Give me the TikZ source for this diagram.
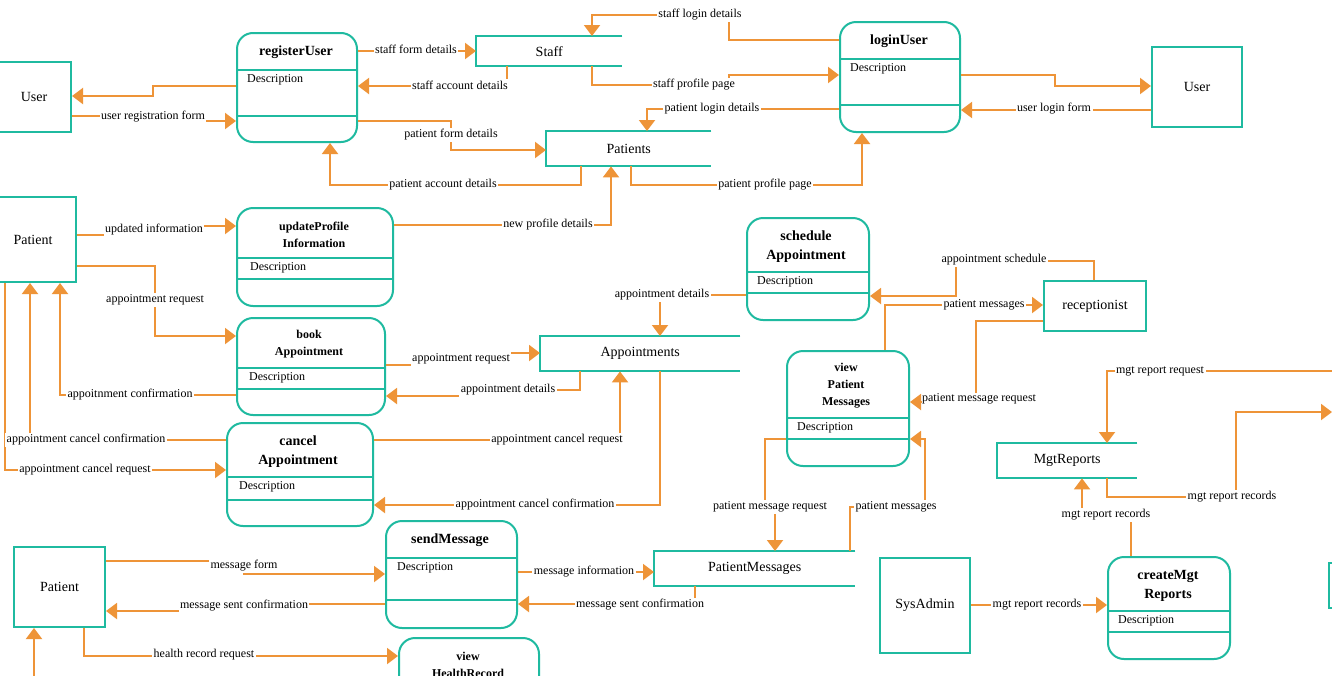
\documentclass[tikz,border=0pt]{standalone}
\usepackage{fontspec}
\setmainfont{Liberation Serif}
\usetikzlibrary{arrows.meta}
\definecolor{tealc}{RGB}{31,186,160}
\definecolor{orangec}{RGB}{238,148,56}
\tikzset{
  ent/.style={draw=tealc, line width=2pt, font=\fontsize{14}{16}\selectfont, inner sep=0pt, anchor=north west},
  proc/.style={draw=tealc, line width=2pt, rounded corners=16pt, inner sep=0pt, anchor=north west},
  ptitle/.style={font=\bfseries\fontsize{14}{19}\selectfont, align=center, inner sep=0pt},
  ptitles/.style={font=\bfseries\fontsize{12}{17}\selectfont, align=center, inner sep=0pt},
  desc/.style={font=\fontsize{12}{14}\selectfont, anchor=west, inner sep=0pt},
  store/.style={font=\fontsize{14}{16}\selectfont, inner sep=0pt, anchor=north west},
  tline/.style={draw=tealc, line width=2pt},
  flow/.style={draw=orangec, line width=2pt, -{Triangle[length=11pt,width=16pt]}},
  lbl/.style={fill=white, font=\fontsize{12}{14}\selectfont, inner sep=1.5pt},
}
\begin{document}
\begin{tikzpicture}[x=1pt,y=-1pt]
\useasboundingbox (0,0) rectangle (1332,675);
\fill[white] (0,0) rectangle (1332,675);

% ---------- external entities ----------
\node[ent, minimum width=74, minimum height=70] (uL) at (-4,61) {User};
\node[ent, minimum width=90, minimum height=80] (uR) at (1151,46) {User};
\node[ent, minimum width=86, minimum height=85] (pM) at (-11,196) {Patient};
\node[ent, minimum width=91, minimum height=80] (pB) at (13,546) {Patient};
\node[ent, minimum width=102, minimum height=50] (rec) at (1043,280) {receptionist};
\node[ent, minimum width=90, minimum height=95] (sys) at (879,557) {SysAdmin};
\node[ent, minimum width=100, minimum height=45] (rp) at (1328,562) {};

% ---------- data stores ----------
\node[store, minimum width=146, minimum height=30] (staff) at (476,36) {Staff};
\node[store, minimum width=165, minimum height=35] (patients) at (546,131) {Patients};
\node[store, minimum width=200, minimum height=35] (appts) at (540,336) {Appointments};
\node[store, minimum width=140, minimum height=35] (mgt) at (997,443) {MgtReports};
\node[store, minimum width=201, minimum height=35] (pmsg) at (654,551) {PatientMessages};
\foreach \s in {staff,patients,appts,mgt,pmsg}{
  \draw[tline] (\s.north east) -- (\s.north west) -- (\s.south west) -- (\s.south east);
}

% ---------- processes ----------
% registerUser
\node[proc, minimum width=120, minimum height=109] (reg) at (236,32) {};
\node[ptitle] (regT) at (296,52) {registerUser};
\draw[tline] (reg.west |- 0,70) -- (reg.east |- 0,70);
\draw[tline] (reg.west |- 0,116) -- (reg.east |- 0,116);
\node[desc] (regD) at (247,80) {Description};
% loginUser
\node[proc, minimum width=120, minimum height=110] (login) at (839,21) {};
\node[ptitle] (loginT) at (899,41) {loginUser};
\draw[tline] (login.west |- 0,59) -- (login.east |- 0,59);
\draw[tline] (login.west |- 0,105) -- (login.east |- 0,105);
\node[desc] (loginD) at (850,69) {Description};
% updateProfileInformation
\node[proc, minimum width=156, minimum height=98] (upd) at (236,207) {};
\node[ptitles] (updT) at (314,234.5) {updateProfile\\Information};
\draw[tline] (upd.west |- 0,258) -- (upd.east |- 0,258);
\draw[tline] (upd.west |- 0,279) -- (upd.east |- 0,279);
\node[desc] (updD) at (250,268) {Description};
% bookAppointment
\node[proc, minimum width=148, minimum height=97] (book) at (236,317) {};
\node[ptitles] (bookT) at (309,344.5) {book\\Appointment};
\draw[tline] (book.west |- 0,368) -- (book.east |- 0,368);
\draw[tline] (book.west |- 0,389) -- (book.east |- 0,389);
\node[desc] (bookD) at (249,378) {Description};
% cancelAppointment
\node[proc, minimum width=146, minimum height=103] (cancel) at (226,422) {};
\node[ptitle] (cancelT) at (298,451.5) {cancel\\Appointment};
\draw[tline] (cancel.west |- 0,477) -- (cancel.east |- 0,477);
\draw[tline] (cancel.west |- 0,500) -- (cancel.east |- 0,500);
\node[desc] (cancelD) at (239,487) {Description};
% scheduleAppointment
\node[proc, minimum width=122, minimum height=102] (sched) at (746,217) {};
\node[ptitle] (schedT) at (806,246.5) {schedule\\Appointment};
\draw[tline] (sched.west |- 0,272) -- (sched.east |- 0,272);
\draw[tline] (sched.west |- 0,293) -- (sched.east |- 0,293);
\node[desc] (schedD) at (757,282) {Description};
% viewPatientMessages
\node[proc, minimum width=122, minimum height=115] (vpm) at (786,350) {};
\node[ptitles] (vpmT) at (846,386) {view\\Patient\\Messages};
\draw[tline] (vpm.west |- 0,418) -- (vpm.east |- 0,418);
\draw[tline] (vpm.west |- 0,439) -- (vpm.east |- 0,439);
\node[desc] (vpmD) at (797,428) {Description};
% sendMessage
\node[proc, minimum width=131, minimum height=107] (send) at (385,520) {};
\node[ptitle] (sendT) at (450,540) {sendMessage};
\draw[tline] (send.west |- 0,558) -- (send.east |- 0,558);
\draw[tline] (send.west |- 0,600) -- (send.east |- 0,600);
\node[desc] (sendD) at (397,568) {Description};
% viewHealthRecord
\node[proc, minimum width=140, minimum height=110] (vhr) at (398,637) {};
\node[ptitles] (vhrT) at (468,664.5) {view\\HealthRecord};
% createMgtReports
\node[proc, minimum width=122, minimum height=102] (cmr) at (1107,556) {};
\node[ptitle] (cmrT) at (1168,586) {createMgt\\Reports};
\draw[tline] (cmr.west |- 0,611) -- (cmr.east |- 0,611);
\draw[tline] (cmr.west |- 0,632) -- (cmr.east |- 0,632);
\node[desc] (cmrD) at (1118,621) {Description};

% ---------- off-picture ends ----------
\coordinate (offB) at (34,700);
\coordinate (offR1) at (1332,412);
\coordinate (offR2) at (1345,371);

% ---------- flows ----------
\draw[flow] (reg.west |- 0,86) -- (153,86) -- (153,96) -- (uL.east |- 0,96);
\draw[flow] (uL.east |- 0,116) -- (153,116) -- (153,121) -- (reg.west |- 0,121);
\draw[flow] (reg.east |- 0,51) -- (staff.west |- 0,51);
\draw[flow] (staff.south -| 507,0) -- (507,86) -- (reg.east |- 0,86);
\draw[flow] (reg.east |- 0,121) -- (451,121) -- (451,150) -- (patients.west |- 0,150);
\draw[flow] (patients.south -| 581,0) -- (581,185) -- (330,185) -- (reg.south -| 330,0);
\draw[flow] (login.west |- 0,40) -- (729,40) -- (729,15) -- (592,15) -- (staff.north -| 592,0);
\draw[flow] (staff.south -| 592,0) -- (592,85) -- (729,85) -- (729,75) -- (login.west |- 0,75);
\draw[flow] (login.west |- 0,109) -- (647,109) -- (patients.north -| 647,0);
\draw[flow] (patients.south -| 631,0) -- (631,185) -- (862,185) -- (login.south -| 862,0);
\draw[flow] (login.east |- 0,75) -- (1055,75) -- (1055,86) -- (uR.west |- 0,86);
\draw[flow] (uR.west |- 0,110) -- (login.east |- 0,110);
\draw[flow] (pM.east |- 0,235) -- (154,235) -- (154,226) -- (upd.west |- 0,226);
\draw[flow] (upd.east |- 0,225) -- (611,225) -- (patients.south -| 611,0);
\draw[flow] (pM.east |- 0,266) -- (155,266) -- (155,336) -- (book.west |- 0,336);
\draw[flow] (book.west |- 0,395) -- (60,395) -- (pM.south -| 60,0);
\draw[flow] (cancel.west |- 0,440) -- (30,440) -- (pM.south -| 30,0);
\draw[flow] (pM.south -| 5,0) -- (5,470) -- (cancel.west |- 0,470);
\draw[flow] (book.east |- 0,365) -- (461,365) -- (461,353) -- (appts.west |- 0,353);
\draw[flow] (appts.south -| 580,0) -- (580,390) -- (508,390) -- (508,396) -- (book.east |- 0,396);
\draw[flow] (cancel.east |- 0,440) -- (620,440) -- (appts.south -| 620,0);
\draw[flow] (appts.south -| 660,0) -- (660,505) -- (cancel.east |- 0,505);
\draw[flow] (sched.west |- 0,295) -- (660,295) -- (appts.north -| 660,0);
\draw[flow] (rec.north -| 1094,0) -- (1094,261) -- (956,261) -- (956,296) -- (sched.east |- 0,296);
\draw[flow] (vpm.north -| 885,0) -- (885,305) -- (rec.west |- 0,305);
\draw[flow] (rec.west |- 0,321) -- (976,321) -- (976,402) -- (vpm.east |- 0,402);
\draw[flow] (vpm.west |- 0,439) -- (765,439) -- (765,507) -- (775,507) -- (pmsg.north -| 775,0);
\draw[flow] (pmsg.north -| 850,0) -- (850,507) -- (925,507) -- (925,439) -- (vpm.east |- 0,439);
\draw[flow] (send.east |- 0,572) -- (pmsg.west |- 0,572);
\draw[flow] (pmsg.south -| 695,0) -- (695,604) -- (send.east |- 0,604);
\draw[flow] (pB.east |- 0,561) -- (244,561) -- (244,574) -- (send.west |- 0,574);
\draw[flow] (send.west |- 0,604) -- (244,604) -- (244,611) -- (pB.east |- 0,611);
\draw[flow] (pB.south -| 84,0) -- (84,656) -- (vhr.west |- 0,656);
\draw[flow] (offB) -- (pB.south -| 34,0);
\draw[flow] (sys.east |- 0,605) -- (cmr.west |- 0,605);
\draw[flow] (cmr.north -| 1131,0) -- (1131,515) -- (1082,515) -- (mgt.south -| 1082,0);
\draw[flow] (mgt.south -| 1107,0) -- (1107,497) -- (1236,497) -- (1236,412) -- (offR1);
\draw[flow] (offR2) -- (1107,371) -- (mgt.north -| 1107,0);

% ---------- flow labels ----------
\node[lbl] (l01) at (153,117) {user registration form};
\node[lbl] (l02) at (416,49) {staff form details};
\node[lbl] (l03) at (460,85) {staff account details};
\node[lbl] (l04) at (451,135) {patient form details};
\node[lbl] (l05) at (443,185) {patient account details};
\node[lbl] (l06) at (700,15) {staff login details};
\node[lbl] (l07) at (694,85) {staff profile page};
\node[lbl] (l08) at (712,109) {patient login details};
\node[lbl] (l09) at (765,185) {patient profile page};
\node[lbl] (l10) at (1054,109) {user login form};
\node[lbl] (l11) at (154,230) {updated information};
\node[lbl] (l12) at (548,225) {new profile details};
\node[lbl] (l13) at (155,300) {appointment request};
\node[lbl] (l14) at (130,395) {appoitnment confirmation};
\node[lbl] (l15) at (86,440) {appointment cancel confirmation};
\node[lbl] (l16) at (85,470) {appointment cancel request};
\node[lbl] (l17) at (461,359) {appointment request};
\node[lbl] (l18) at (508,390) {appointment details};
\node[lbl] (l19) at (557,440) {appointment cancel request};
\node[lbl] (l20) at (535,505) {appointment cancel confirmation};
\node[lbl] (l21) at (662,295) {appointment details};
\node[lbl] (l22) at (994,260) {appointment schedule};
\node[lbl] (l23) at (984,305) {patient messages};
\node[lbl, inner sep=0.5pt] (l24) at (979,399) {patient message request};
\node[lbl] (l25) at (770,507) {patient message request};
\node[lbl] (l26) at (896,507) {patient messages};
\node[lbl] (l27) at (584,572) {message information};
\node[lbl] (l28) at (640,605) {message sent confirmation};
\node[lbl] (l29) at (244,566) {message form};
\node[lbl] (l30) at (244,606) {message sent confirmation};
\node[lbl] (l31) at (204,655) {health record request};
\node[lbl] (l32) at (1037,605) {mgt report records};
\node[lbl] (l33) at (1106,515) {mgt report records};
\node[lbl] (l34) at (1232,497) {mgt report records};
\node[lbl] (l35) at (1160,371) {mgt report request};
\end{tikzpicture}
\end{document}
